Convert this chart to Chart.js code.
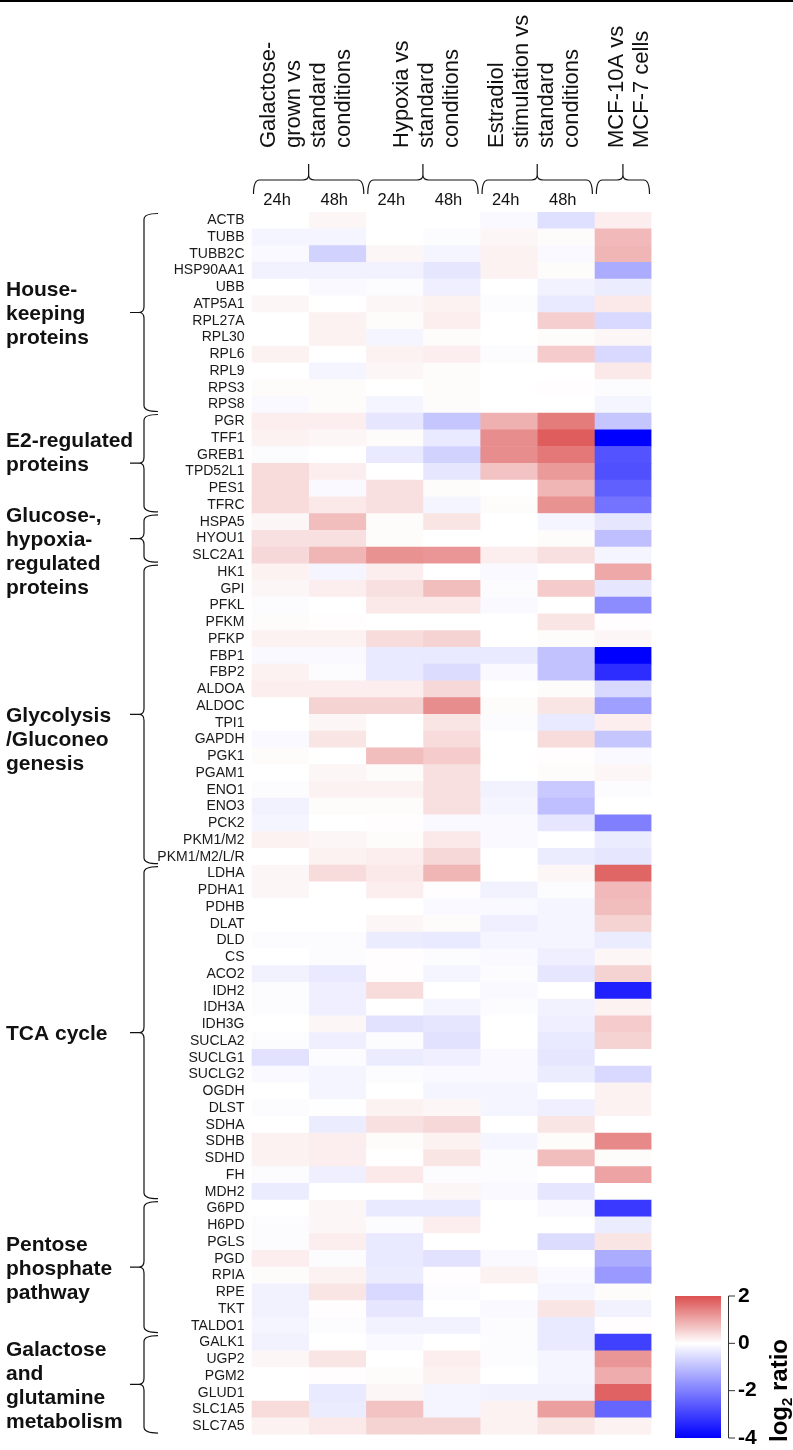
<!DOCTYPE html>
<html>
<head>
<meta charset="utf-8">
<script src="https://cdn.jsdelivr.net/npm/chart.js@4.4.0/dist/chart.umd.min.js"></script>
<style>
  body { margin: 0; background: #fff; }
  #wrap { width: 793px; height: 1450px; position: relative; }
</style>
</head>
<body>
<div id="wrap"><canvas id="heat"></canvas></div>
<script>
// row labels (genes), top to bottom
const genes = [
  'ACTB', 'TUBB', 'TUBB2C', 'HSP90AA1', 'UBB', 'ATP5A1', 'RPL27A', 'RPL30', 'RPL6', 'RPL9', 'RPS3', 'RPS8',
  'PGR', 'TFF1', 'GREB1', 'TPD52L1', 'PES1', 'TFRC',
  'HSPA5', 'HYOU1', 'SLC2A1',
  'HK1', 'GPI', 'PFKL', 'PFKM', 'PFKP', 'FBP1', 'FBP2', 'ALDOA', 'ALDOC', 'TPI1', 'GAPDH', 'PGK1', 'PGAM1', 'ENO1', 'ENO3', 'PCK2', 'PKM1/M2', 'PKM1/M2/L/R',
  'LDHA', 'PDHA1', 'PDHB', 'DLAT', 'DLD', 'CS', 'ACO2', 'IDH2', 'IDH3A', 'IDH3G', 'SUCLA2', 'SUCLG1', 'SUCLG2', 'OGDH', 'DLST', 'SDHA', 'SDHB', 'SDHD', 'FH', 'MDH2',
  'G6PD', 'H6PD', 'PGLS', 'PGD', 'RPIA', 'RPE', 'TKT', 'TALDO1',
  'GALK1', 'UGP2', 'PGM2', 'GLUD1', 'SLC1A5', 'SLC7A5'
];

// log2 ratios per column
const gal24 = [0, -0.15, -0.1, -0.2, 0, 0.1, 0, 0, 0.15, 0, 0.05, -0.1,
  0.2, 0.15, -0.05, 0.4, 0.4, 0.4,
  0.1, 0.35, 0.45,
  0.15, 0.1, -0.05, 0.05, 0.15, -0.1, 0.15, 0.2, 0, 0, -0.1, 0.05, 0, -0.05, -0.2, -0.15, 0.15, 0,
  0.1, 0.1, 0, 0, -0.05, 0, -0.2, -0.05, -0.05, 0, -0.05, -0.45, -0.1, 0, -0.05, 0, 0.15, 0.15, -0.05, -0.3,
  0, -0.05, -0.05, 0.2, 0.05, -0.2, -0.2, -0.15,
  -0.2, 0.1, 0, 0, 0.4, 0.15];
const gal48 = [0.1, -0.15, -0.7, -0.2, -0.1, 0, 0.15, 0.15, 0, -0.15, 0.05, 0.05,
  0.2, 0.1, 0, 0.2, -0.1, 0.25,
  0.75, 0.35, 0.85,
  -0.15, 0.2, 0, 0.02, 0.15, -0.1, -0.05, 0.2, 0.5, 0.1, 0.3, 0, 0.1, 0.15, 0.05, 0, 0.1, 0.15,
  0.4, 0, 0, 0, -0.05, -0.05, -0.35, -0.25, -0.25, 0.1, -0.25, -0.05, -0.15, -0.15, -0.02, -0.3, 0.2, 0.2, -0.25, 0,
  0.1, 0.1, 0.2, -0.05, 0.15, 0.3, 0.02, -0.05,
  0, 0.3, 0.02, -0.35, -0.3, 0.25];
const hyp24 = [0, 0, 0.1, -0.2, -0.05, 0.1, 0.05, -0.15, 0.15, 0.1, 0, -0.15,
  -0.4, 0.05, -0.35, 0, 0.35, 0.35,
  0.05, 0.05, 1.25,
  0.2, 0.35, 0.25, 0, 0.4, -0.35, -0.35, 0.2, 0.5, 0, 0, 0.75, 0.05, 0.15, 0.05, 0.02, 0.05, 0.2,
  0.25, 0.2, 0, 0.1, -0.3, 0.02, 0.02, 0.4, 0, -0.45, -0.05, -0.3, -0.05, 0, 0.15, 0.35, 0.05, 0, 0.25, 0,
  -0.35, -0.05, -0.35, -0.35, -0.3, -0.6, -0.4, -0.2,
  -0.1, 0, 0.05, 0.1, 0.7, 0.5];
const hyp48 = [0, -0.05, -0.15, -0.4, -0.25, 0.15, 0.2, 0.05, 0.2, 0.05, 0.05, 0.05,
  -0.9, -0.35, -0.7, -0.4, 0.05, -0.15,
  0.3, 0, 1.2,
  0, 0.75, 0.25, 0, 0.5, -0.35, -0.55, 0.45, 1.3, 0.3, 0.4, 0.6, 0.35, 0.35, 0.35, -0.1, 0.25, 0.45,
  0.85, 0.02, -0.1, 0.05, -0.35, -0.05, -0.15, 0, -0.15, -0.4, -0.45, -0.25, -0.1, -0.15, 0.1, 0.45, 0.15, 0.3, -0.05, 0.1,
  -0.35, 0.2, 0, -0.45, 0.02, -0.05, 0, -0.2,
  0, 0.2, 0.15, -0.15, -0.15, 0.5];
const est24 = [-0.1, 0.1, 0.15, 0.15, 0, -0.05, 0, 0, -0.05, 0, 0, 0,
  0.9, 1.3, 1.3, 0.7, 0, 0.05,
  0, 0, 0.2,
  -0.1, -0.05, -0.1, 0, 0, -0.35, -0.1, 0, 0.05, -0.05, 0, 0, 0, -0.2, -0.15, -0.1, -0.1, 0,
  0, -0.2, -0.1, -0.25, -0.15, -0.1, -0.05, -0.1, -0.05, 0, 0, -0.1, -0.1, -0.15, -0.15, 0, -0.15, -0.05, -0.05, -0.1,
  0, 0, 0, -0.1, 0.15, 0, -0.1, -0.05,
  -0.05, -0.05, 0, -0.2, 0.15, 0.15];
const est48 = [-0.5, 0.05, -0.1, 0.05, -0.2, -0.35, 0.55, 0.05, 0.6, 0, 0.02, 0,
  1.5, 1.85, 1.55, 1.15, 0.85, 1.25,
  -0.15, 0.05, 0.35,
  0, 0.6, 0, 0.3, 0.05, -0.95, -0.95, 0.05, 0.3, -0.35, 0.4, 0.02, 0.05, -0.85, -1.0, -0.4, 0, -0.3,
  0.1, -0.05, -0.15, -0.15, -0.15, -0.25, -0.4, 0, -0.2, -0.25, -0.35, -0.4, -0.3, 0, -0.25, 0.3, 0.05, 0.75, 0, -0.4,
  -0.1, 0, -0.55, 0, -0.1, -0.15, 0.3, -0.35,
  -0.35, -0.15, -0.15, -0.2, 1.1, 0.3];
const mcf = [0.2, 0.8, 0.85, -1.3, -0.3, 0.25, -0.6, 0.1, -0.6, 0.25, -0.05, -0.15,
  -0.9, -4, -2.7, -2.75, -2.5, -2.2,
  -0.4, -1.0, -0.15,
  1.0, -0.4, -1.8, 0.02, 0.1, -4, -3.3, -0.6, -1.5, 0.2, -0.9, -0.1, 0.1, -0.05, 0, -2.0, -0.3, -0.4,
  1.75, 0.8, 0.75, 0.5, -0.3, 0.1, 0.5, -3.5, 0.15, 0.6, 0.5, 0, -0.6, 0.15, 0.15, 0, 1.35, 0.05, 1.05, 0,
  -3.1, -0.3, 0.3, -1.3, -1.6, 0.05, -0.2, 0.02,
  -3.0, 1.2, 0.95, 1.8, -2.4, 0.15];

const series = [gal24, gal48, hyp24, hyp48, est24, est48, mcf];
const conditions = ['Galactose 24h', 'Galactose 48h', 'Hypoxia 24h', 'Hypoxia 48h', 'Estradiol 24h', 'Estradiol 48h', 'MCF-10A vs MCF-7'];
const colTicks = ['24h', '48h', '24h', '48h', '24h', '48h', ''];

// column header groups
const headerLines = [
  ['Galactose-', 'grown vs', 'standard', 'conditions'],
  ['Hypoxia vs', 'standard', 'conditions'],
  ['Estradiol', 'stimulation vs', 'standard', 'conditions'],
  ['MCF-10A vs', 'MCF-7 cells']
];
const headerCols = [[0, 2], [2, 4], [4, 6], [6, 7]];

// row groups
const groupLines = [
  ['House-', 'keeping', 'proteins'],
  ['E2-regulated', 'proteins'],
  ['Glucose-,', 'hypoxia-', 'regulated', 'proteins'],
  ['Glycolysis', '/Gluconeo', 'genesis'],
  ['TCA cycle'],
  ['Pentose', 'phosphate', 'pathway'],
  ['Galactose', 'and', 'glutamine', 'metabolism']
];
const groupRows = [[0, 11], [12, 17], [18, 20], [21, 38], [39, 58], [59, 66], [67, 72]];

// colour bar
const cbMin = -4, cbMax = 2;
const cbTicks = [2, 0, -2, -4];

const FONT = '"Liberation Sans", Arial, Helvetica, sans-serif';

function heatColor(v) {
  if (v >= 0) {
    const t = Math.min(v / 2, 1);
    return `rgb(${Math.round(255 - 35 * t)},${Math.round(255 - 175 * t)},${Math.round(255 - 175 * t)})`;
  }
  const t = Math.min(-v / 4, 1);
  const c = Math.round(255 * (1 - t));
  return `rgb(${c},${c},255)`;
}

function hBrace(ctx, x1, x2, yEnd, yLine, yTip) {
  const xm = (x1 + x2) / 2, r = 6;
  ctx.beginPath();
  ctx.moveTo(x1, yEnd);
  ctx.quadraticCurveTo(x1, yLine, x1 + r, yLine);
  ctx.lineTo(xm - r, yLine);
  ctx.quadraticCurveTo(xm, yLine, xm, yLine - 5);
  ctx.lineTo(xm, yTip);
  ctx.moveTo(xm, yLine - 5);
  ctx.quadraticCurveTo(xm, yLine, xm + r, yLine);
  ctx.lineTo(x2 - r, yLine);
  ctx.quadraticCurveTo(x2, yLine, x2, yEnd);
  ctx.stroke();
}

function vBrace(ctx, y1, y2, xEnd, xLine, xTip) {
  const ym = (y1 + y2) / 2, r = 6;
  ctx.beginPath();
  ctx.moveTo(xEnd, y1);
  ctx.quadraticCurveTo(xLine, y1, xLine, y1 + r);
  ctx.lineTo(xLine, ym - r);
  ctx.quadraticCurveTo(xLine, ym, xLine - 5, ym);
  ctx.lineTo(xTip, ym);
  ctx.moveTo(xLine - 5, ym);
  ctx.quadraticCurveTo(xLine, ym, xLine, ym + r);
  ctx.lineTo(xLine, y2 - r);
  ctx.quadraticCurveTo(xLine, y2, xEnd, y2);
  ctx.stroke();
}

// braces, header texts, group labels and colour bar
const decor = {
  id: 'decor',
  afterDraw(chart) {
    const ctx = chart.ctx;
    const xs = chart.scales.x;
    const area = chart.chartArea;
    const rowH = (area.bottom - area.top) / genes.length;
    ctx.save();
    ctx.fillStyle = '#000';
    ctx.fillRect(0, 0, chart.width, 2);

    // 24h / 48h
    ctx.font = `16.5px ${FONT}`;
    ctx.textAlign = 'center';
    ctx.textBaseline = 'alphabetic';
    ctx.fillStyle = '#111';
    colTicks.forEach((t, i) => ctx.fillText(t, xs.getPixelForValue(i + 0.5) - 3, 205));

    // header braces and rotated titles
    ctx.strokeStyle = '#111';
    ctx.lineWidth = 1.2;
    const headOffset = [23.5, 42, 23, 29];
    headerCols.forEach(([a, b], g) => {
      const x1 = xs.getPixelForValue(a) + 2, x2 = xs.getPixelForValue(b) - 2;
      hBrace(ctx, x1, x2, 194, 180, 164);
      ctx.font = `22px ${FONT}`;
      ctx.textAlign = 'left';
      headerLines[g].forEach((line, i) => {
        ctx.save();
        ctx.translate(xs.getPixelForValue(a) + headOffset[g] + 25 * i, 148);
        ctx.rotate(-Math.PI / 2);
        ctx.fillText(line, 0, 0);
        ctx.restore();
      });
    });

    // row group braces and labels
    const anchor = [1, 1, 1, 0, 0, 1, 1.5];
    ctx.font = `bold 21px ${FONT}`;
    ctx.textAlign = 'left';
    ctx.textBaseline = 'middle';
    groupRows.forEach(([s, e], g) => {
      const y1 = area.top + s * rowH + 1.5, y2 = area.top + (e + 1) * rowH - 1.5;
      vBrace(ctx, y1, y2, 158, 144, 130);
      const ym = (y1 + y2) / 2;
      groupLines[g].forEach((line, i) => ctx.fillText(line, 6, ym + 2 + (i - anchor[g]) * 24));
    });

    // colour bar
    const cbX = 675, cbW = 46, cbTop = 1296, cbBot = 1438;
    const yOf = v => cbBot - (v - cbMin) / (cbMax - cbMin) * (cbBot - cbTop);
    const grad = ctx.createLinearGradient(0, cbBot, 0, cbTop);
    for (let v = cbMin; v <= cbMax + 1e-9; v += 0.25) {
      grad.addColorStop((v - cbMin) / (cbMax - cbMin), heatColor(v));
    }
    ctx.fillStyle = grad;
    ctx.fillRect(cbX, cbTop, cbW, cbBot - cbTop);
    ctx.strokeStyle = '#333';
    ctx.lineWidth = 1;
    ctx.beginPath();
    ctx.moveTo(728.5, cbTop);
    ctx.lineTo(728.5, cbBot);
    cbTicks.forEach(v => {
      ctx.moveTo(728.5, yOf(v));
      ctx.lineTo(735, yOf(v));
    });
    ctx.stroke();
    ctx.fillStyle = '#000';
    ctx.font = `bold 21px ${FONT}`;
    cbTicks.forEach(v => ctx.fillText(String(v), 738, yOf(v)));

    // log2 ratio
    ctx.save();
    ctx.translate(787, 1442);
    ctx.rotate(-Math.PI / 2);
    ctx.textBaseline = 'alphabetic';
    const big = `bold 24px ${FONT}`, small = `bold 15px ${FONT}`;
    ctx.font = big;
    const w1 = ctx.measureText('log').width;
    ctx.font = small;
    const w2 = ctx.measureText('2').width;
    let x = 0;
    ctx.font = big;
    ctx.fillText('log', x, 0);
    x += w1;
    ctx.font = small;
    ctx.fillText('2', x, 5);
    x += w2;
    ctx.font = big;
    ctx.fillText(' ratio', x, 0);
    ctx.restore();

    ctx.restore();
  }
};

new Chart(document.getElementById('heat'), {
  type: 'bar',
  data: {
    labels: genes,
    datasets: series.map((vals, c) => ({
      label: conditions[c],
      data: vals.map(() => [c, c + 1]),
      backgroundColor: vals.map(heatColor),
      borderWidth: 0,
      grouped: false,
      barPercentage: 1,
      categoryPercentage: 1
    }))
  },
  options: {
    indexAxis: 'y',
    responsive: true,
    maintainAspectRatio: false,
    animation: false,
    layout: { padding: { left: 0, right: 141.5, top: 212, bottom: 11 } },
    plugins: { legend: { display: false }, tooltip: { enabled: false } },
    scales: {
      x: { type: 'linear', min: 0, max: 7, display: false },
      y: {
        type: 'category',
        grid: { display: false, drawTicks: false },
        border: { display: false },
        ticks: { autoSkip: false, padding: 7, color: '#1a1a1a', font: { family: FONT, size: 14 } },
        afterFit(scale) { scale.width = 251.5; }
      }
    }
  },
  plugins: [decor]
});
</script>
</body>
</html>
